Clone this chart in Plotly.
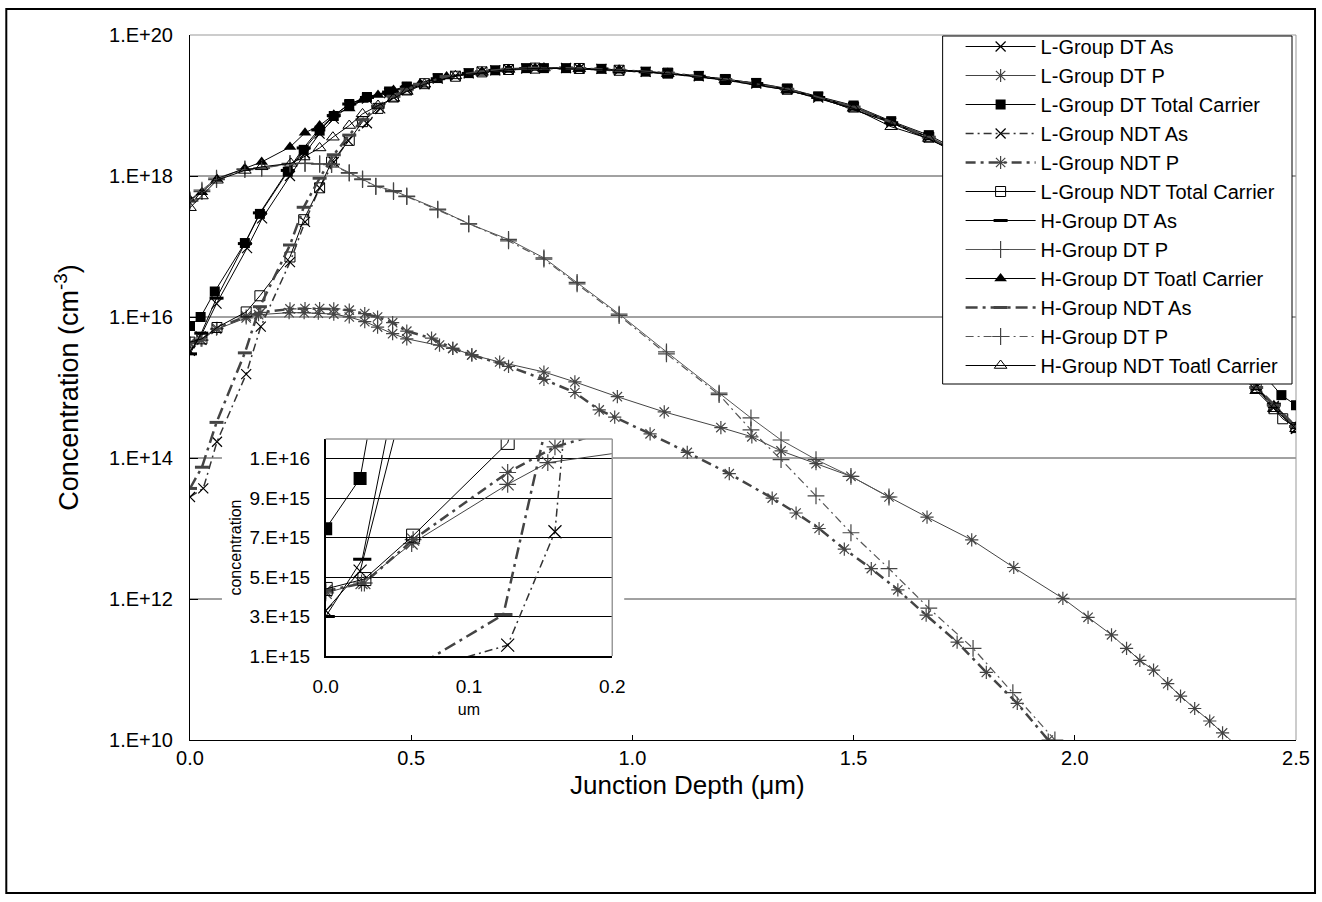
import plotly.graph_objects as go

# ---------------- data (junction depth in um, concentration in cm^-3) ----------------
l_dt_as_x = [0, 0.024, 0.06, 0.129, 0.163, 0.226, 0.26, 0.293, 0.325, 0.36, 0.40, 0.45, 0.49, 0.56, 0.63, 0.69, 0.76, 0.85, 0.93, 1.03, 1.15, 1.28, 1.42, 1.585, 1.75, 1.95, 2.15, 2.35, 2.45, 2.5]
l_dt_as_y = [3.3e15, 5.3e15, 1.55e16, 9.5e16, 2.5e17, 1.0e18, 2.1e18, 4.0e18, 6.5e18, 1.0e19, 1.25e19, 1.5e19, 1.8e19, 2.4e19, 2.85e19, 3.15e19, 3.35e19, 3.4e19, 3.3e19, 3.0e19, 2.6e19, 2.05e19, 1.3e19, 5.7e18, 2.0e18, 3.5e17, 4.0e16, 2.4e15, 5.5e14, 2.6e14]

l_dt_p_x = [0, 0.025, 0.06, 0.127, 0.155, 0.224, 0.258, 0.29, 0.325, 0.36, 0.395, 0.424, 0.458, 0.49, 0.564, 0.594, 0.637, 0.70, 0.80, 0.87, 0.966, 1.072, 1.2, 1.27, 1.336, 1.415, 1.494, 1.58, 1.666, 1.767, 1.862, 1.973, 2.03, 2.083, 2.117, 2.147, 2.178, 2.21, 2.239, 2.271, 2.305, 2.334, 2.37]
l_dt_p_y = [4.2e15, 4.7e15, 6.7e15, 9.7e15, 1.08e16, 1.15e16, 1.15e16, 1.13e16, 1.1e16, 1.0e16, 8.6e15, 7.2e15, 5.8e15, 4.9e15, 4.0e15, 3.6e15, 2.9e15, 2.3e15, 1.66e15, 1.2e15, 7.4e14, 4.5e14, 2.7e14, 2.0e14, 1.26e14, 8.3e13, 5.5e13, 2.8e13, 1.45e13, 6.9e12, 2.8e12, 1.02e12, 5.5e11, 3.1e11, 2.0e11, 1.35e11, 9.8e10, 6.3e10, 4.2e10, 2.8e10, 1.86e10, 1.26e10, 7.9e9]

l_dt_tot_x = [0, 0.024, 0.056, 0.124, 0.158, 0.221, 0.257, 0.293, 0.325, 0.36, 0.40, 0.45, 0.49, 0.56, 0.63, 0.69, 0.76, 0.80, 0.85, 0.93, 1.03, 1.08, 1.15, 1.21, 1.28, 1.35, 1.42, 1.50, 1.585, 1.67, 1.85, 2.05, 2.25, 2.41, 2.467, 2.5]
l_dt_tot_y = [7.45e15, 1.0e16, 2.3e16, 1.12e17, 2.9e17, 1.15e18, 2.35e18, 4.4e18, 7.1e18, 1.05e19, 1.32e19, 1.58e19, 1.86e19, 2.45e19, 2.88e19, 3.16e19, 3.39e19, 3.39e19, 3.39e19, 3.31e19, 3.02e19, 2.88e19, 2.63e19, 2.34e19, 2.09e19, 1.74e19, 1.35e19, 1.0e19, 6.0e18, 3.8e18, 1.0e18, 1.6e17, 1.6e16, 2.0e15, 7.8e14, 5.6e14]

l_ndt_as_x = [0, 0.03, 0.061, 0.127, 0.16, 0.226, 0.26, 0.293, 0.325, 0.357, 0.40, 0.43, 0.46, 0.49, 0.53, 0.60, 0.66, 0.72, 0.78, 0.88, 0.97, 1.08, 1.21, 1.35, 1.50, 1.67, 1.85, 2.05, 2.25, 2.41, 2.45, 2.5]
l_ndt_as_y = [2.8e13, 3.7e13, 1.7e14, 1.55e15, 7.3e15, 6.0e16, 2.24e17, 6.8e17, 1.58e18, 3.2e18, 5.6e18, 9.1e18, 1.32e19, 1.66e19, 2.0e19, 2.63e19, 3.02e19, 3.24e19, 3.39e19, 3.35e19, 3.16e19, 2.88e19, 2.34e19, 1.70e19, 9.5e18, 3.55e18, 8.9e17, 1.26e17, 1.0e16, 1.0e15, 5.2e14, 2.6e14]

l_ndt_p_x = [0, 0.027, 0.061, 0.127, 0.16, 0.226, 0.26, 0.293, 0.325, 0.36, 0.395, 0.424, 0.458, 0.49, 0.546, 0.594, 0.637, 0.72, 0.80, 0.87, 0.925, 0.96, 1.04, 1.124, 1.219, 1.316, 1.37, 1.422, 1.479, 1.54, 1.60, 1.664, 1.734, 1.80, 1.87, 1.94]
l_ndt_p_y = [4.3e15, 4.7e15, 6.9e15, 1.03e16, 1.16e16, 1.3e16, 1.32e16, 1.32e16, 1.3e16, 1.25e16, 1.12e16, 1.0e16, 8.3e15, 6.3e15, 5.0e15, 3.6e15, 2.9e15, 2.0e15, 1.3e15, 8.5e14, 4.8e14, 3.8e14, 2.2e14, 1.2e14, 6.0e13, 2.7e13, 1.66e13, 1.0e13, 5.1e12, 2.7e12, 1.35e12, 5.9e11, 2.45e11, 9.1e10, 3.3e10, 1.0e10]

l_ndt_tot_x = [0, 0.027, 0.061, 0.127, 0.158, 0.226, 0.257, 0.293, 0.32, 0.36, 0.39, 0.425, 0.46, 0.49, 0.53, 0.60, 0.66, 0.72, 0.78, 0.88, 0.97, 1.08, 1.21, 1.35, 1.50, 1.67, 1.85, 2.05, 2.25, 2.41, 2.45, 2.47, 2.5]
l_ndt_tot_y = [4.4e15, 4.9e15, 7.1e15, 1.18e16, 2.0e16, 7.1e16, 2.4e17, 6.8e17, 1.58e18, 3.2e18, 5.9e18, 9.1e18, 1.32e19, 1.66e19, 2.04e19, 2.6e19, 3.0e19, 3.24e19, 3.39e19, 3.35e19, 3.16e19, 2.88e19, 2.34e19, 1.70e19, 9.5e18, 3.55e18, 8.9e17, 1.26e17, 1.0e16, 1.0e15, 5.0e14, 3.6e14, 2.7e14]

h_dt_as_x = [0, 0.0255, 0.06, 0.124, 0.158, 0.221, 0.257, 0.29, 0.325, 0.36, 0.40, 0.45, 0.49, 0.56, 0.63, 0.69, 0.76, 0.85, 0.93, 1.03, 1.15, 1.28, 1.42, 1.585, 1.75, 1.95, 2.15, 2.35, 2.45, 2.5]
h_dt_as_y = [3.0e15, 5.9e15, 1.85e16, 1.1e17, 3.0e17, 1.2e18, 2.5e18, 4.5e18, 7.2e18, 1.05e19, 1.3e19, 1.55e19, 1.82e19, 2.4e19, 2.85e19, 3.15e19, 3.35e19, 3.4e19, 3.3e19, 3.0e19, 2.6e19, 2.05e19, 1.3e19, 5.7e18, 2.0e18, 3.5e17, 4.0e16, 2.4e15, 5.8e14, 2.8e14]

h_dt_p_x = [0, 0.027, 0.06, 0.124, 0.162, 0.226, 0.26, 0.293, 0.32, 0.36, 0.39, 0.42, 0.46, 0.49, 0.56, 0.63, 0.72, 0.80, 0.875, 0.97, 1.077, 1.196, 1.268, 1.336, 1.415, 1.494, 1.58]
h_dt_p_y = [4.6e17, 6.3e17, 9.3e17, 1.26e18, 1.29e18, 1.51e18, 1.51e18, 1.48e18, 1.48e18, 1.12e18, 9.1e17, 7.2e17, 6.2e17, 5.2e17, 3.4e17, 2.1e17, 1.26e17, 6.9e16, 3.1e16, 1.1e16, 3.2e15, 8.3e14, 3.7e14, 1.8e14, 9.5e13, 5.5e13, 2.8e13]

h_dt_tot_x = [0, 0.027, 0.061, 0.124, 0.162, 0.226, 0.26, 0.293, 0.325, 0.36, 0.39, 0.425, 0.46, 0.49, 0.52, 0.58, 0.66, 0.72, 0.78, 0.88, 0.97, 1.08, 1.21, 1.35, 1.50, 1.67, 1.85, 2.05, 2.25, 2.41, 2.45, 2.5]
h_dt_tot_y = [4.6e17, 5.9e17, 9.1e17, 1.29e18, 1.58e18, 2.57e18, 4.1e18, 5.2e18, 7.4e18, 9.1e18, 1.2e19, 1.41e19, 1.66e19, 1.82e19, 2.04e19, 2.57e19, 3.02e19, 3.27e19, 3.39e19, 3.35e19, 3.16e19, 2.88e19, 2.34e19, 1.70e19, 9.5e18, 3.55e18, 8.9e17, 1.26e17, 1.0e16, 1.0e15, 5.6e14, 2.8e14]

h_ndt_as_x = [0, 0.027, 0.06, 0.124, 0.158, 0.226, 0.257, 0.293, 0.325, 0.36, 0.39, 0.425, 0.46, 0.49, 0.52, 0.58, 0.66, 0.72, 0.78, 0.88, 0.97, 1.08, 1.21, 1.35, 1.50, 1.67, 1.85, 2.05, 2.25, 2.41, 2.45, 2.5]
h_ndt_as_y = [3.7e13, 7.4e13, 3.2e14, 3.1e15, 1.4e16, 1.05e17, 3.6e17, 9.3e17, 2.0e18, 3.8e18, 6.3e18, 9.8e18, 1.35e19, 1.7e19, 2.0e19, 2.57e19, 3.02e19, 3.27e19, 3.39e19, 3.35e19, 3.16e19, 2.88e19, 2.34e19, 1.70e19, 9.5e18, 3.55e18, 8.9e17, 1.26e17, 1.0e16, 1.0e15, 5.6e14, 2.8e14]

h_ndt_p_x = [0, 0.027, 0.06, 0.124, 0.162, 0.226, 0.26, 0.293, 0.32, 0.36, 0.39, 0.42, 0.46, 0.49, 0.56, 0.63, 0.72, 0.80, 0.875, 0.97, 1.077, 1.196, 1.268, 1.336, 1.415, 1.494, 1.58, 1.67, 1.77, 1.86, 1.955]
h_ndt_p_y = [4.4e17, 6.0e17, 8.9e17, 1.23e18, 1.29e18, 1.48e18, 1.51e18, 1.48e18, 1.45e18, 1.1e18, 8.9e17, 7.1e17, 6.0e17, 5.1e17, 3.3e17, 2.1e17, 1.2e17, 6.6e16, 2.95e16, 1.05e16, 3.0e15, 7.9e14, 2.5e14, 9.5e13, 2.9e13, 8.7e12, 2.7e12, 7.4e11, 2.0e11, 4.7e10, 1.0e10]

h_ndt_tot_x = [0, 0.027, 0.061, 0.124, 0.162, 0.228, 0.257, 0.293, 0.323, 0.36, 0.39, 0.425, 0.46, 0.49, 0.53, 0.60, 0.66, 0.72, 0.80, 0.88, 0.97, 1.08, 1.21, 1.35, 1.50, 1.585, 1.67, 1.85, 2.05, 2.25, 2.41, 2.45, 2.5]
h_ndt_tot_y = [3.55e17, 5.2e17, 8.7e17, 1.2e18, 1.35e18, 1.51e18, 1.86e18, 2.5e18, 3.55e18, 5.2e18, 7.6e18, 1.0e19, 1.26e19, 1.58e19, 2.0e19, 2.63e19, 2.95e19, 3.24e19, 3.39e19, 3.31e19, 3.16e19, 2.82e19, 2.29e19, 1.66e19, 9.1e18, 5.0e18, 3.4e18, 8.5e17, 1.2e17, 9.5e15, 9.0e14, 5.0e14, 2.6e14]

series_names = ["L-Group DT As", "L-Group DT P", "L-Group DT Total Carrier",
                "L-Group NDT As", "L-Group NDT P", "L-Group NDT Total Carrier",
                "H-Group DT As", "H-Group DT P", "H-Group DT Toatl Carrier",
                "H-Group NDT As", "H-Group DT P", "H-Group NDT Toatl Carrier"]
series_x = [l_dt_as_x, l_dt_p_x, l_dt_tot_x, l_ndt_as_x, l_ndt_p_x, l_ndt_tot_x,
            h_dt_as_x, h_dt_p_x, h_dt_tot_x, h_ndt_as_x, h_ndt_p_x, h_ndt_tot_x]
series_y = [l_dt_as_y, l_dt_p_y, l_dt_tot_y, l_ndt_as_y, l_ndt_p_y, l_ndt_tot_y,
            h_dt_as_y, h_dt_p_y, h_dt_tot_y, h_ndt_as_y, h_ndt_p_y, h_ndt_tot_y]

y_tick_vals = [1e10, 1e12, 1e14, 1e16, 1e18, 1e20]
y_tick_text = ["1.E+10", "1.E+12", "1.E+14", "1.E+16", "1.E+18", "1.E+20"]
x_tick_vals = [0, 0.5, 1.0, 1.5, 2.0, 2.5]
x_tick_text = ["0.0", "0.5", "1.0", "1.5", "2.0", "2.5"]
inset_y_vals = [1e15, 3e15, 5e15, 7e15, 9e15, 1.1e16]
inset_y_text = ["1.E+15", "3.E+15", "5.E+15", "7.E+15", "9.E+15", "1.E+16"]
inset_x_vals = [0, 0.1, 0.2]
inset_x_text = ["0.0", "0.1", "0.2"]

# ---------------- styles ----------------
styles = [
    dict(symbol="x-thin", size=10, color="black", mlw=1.2, lc="black", lw=1, dash="solid"),
    dict(symbol="asterisk", size=11, color="#444444", mlw=1.2, lc="#444444", lw=1, dash="solid"),
    dict(symbol="square", size=10, color="black", mlw=0, lc="black", lw=1, dash="solid"),
    dict(symbol="x-thin", size=10, color="black", mlw=1.2, lc="#333333", lw=1.5, dash="8px,4px,2px,4px"),
    dict(symbol="asterisk", size=11, color="#444444", mlw=1.2, lc="#444444", lw=2.5, dash="10px,5px,3px,5px"),
    dict(symbol="square-open", size=10, color="black", mlw=1, lc="black", lw=1, dash="solid"),
    dict(symbol="line-ew", size=10, color="black", mlw=3, lc="black", lw=1, dash="solid"),
    dict(symbol="cross-thin", size=12, color="#444444", mlw=1.2, lc="#555555", lw=1, dash="solid"),
    dict(symbol="triangle-up", size=11, color="black", mlw=0, lc="black", lw=1, dash="solid"),
    dict(symbol="line-ew", size=10, color="#444444", mlw=3, lc="#444444", lw=2.5, dash="12px,5px,3px,5px"),
    dict(symbol="cross-thin", size=12, color="#444444", mlw=1.2, lc="#555555", lw=1.2, dash="8px,4px,2px,4px"),
    dict(symbol="triangle-up-open", size=11, color="black", mlw=1, lc="black", lw=1, dash="solid"),
]

fig = go.Figure()
for name, xs, ys, st in zip(series_names, series_x, series_y, styles):
    fig.add_trace(go.Scatter(
        x=xs, y=ys, name=name, mode="lines+markers", xaxis="x", yaxis="y",
        line=dict(color=st["lc"], width=st["lw"], dash=st["dash"]),
        marker=dict(symbol=st["symbol"], size=st["size"], color=st["color"],
                    line=dict(color=st["color"], width=st["mlw"] if st["mlw"] else 0)),
    ))
# inset copies (zoom of the first 0.2 um on a linear scale)
for name, xs, ys, st in zip(series_names, series_x, series_y, styles):
    fig.add_trace(go.Scatter(
        x=xs, y=ys, name=name, mode="lines+markers", xaxis="x2", yaxis="y2",
        showlegend=False,
        line=dict(color=st["lc"], width=st["lw"], dash=st["dash"]),
        marker=dict(symbol=st["symbol"], size=st["size"] + 3, color=st["color"],
                    line=dict(color=st["color"], width=st["mlw"] if st["mlw"] else 0)),
    ))

FONT = "Liberation Sans, Arial, sans-serif"

shapes = []
# main grid lines (paper coords), gap where the inset chart sits
for yp, segs in [(0.8, [(0, 1)]), (0.6, [(0, 1)]), (0.4, [(0, 0.0289), (0.3818, 1)]), (0.2, [(0, 0.0289), (0.3926, 1)])]:
    for a, b in segs:
        shapes.append(dict(type="line", xref="paper", yref="paper", x0=a, x1=b, y0=yp, y1=yp,
                           line=dict(color="#444444", width=1), layer="below"))
# grey top / right border of plot area
shapes.append(dict(type="line", xref="paper", yref="paper", x0=0, x1=1, y0=1, y1=1,
                   line=dict(color="#999999", width=1), layer="below"))
shapes.append(dict(type="line", xref="paper", yref="paper", x0=1, x1=1, y0=0, y1=1,
                   line=dict(color="#999999", width=1), layer="below"))
# inset top / right grey border
shapes.append(dict(type="line", xref="x2 domain", yref="y2 domain", x0=0, x1=1, y0=1, y1=1,
                   line=dict(color="#999999", width=1.5), layer="above"))
shapes.append(dict(type="line", xref="x2 domain", yref="y2 domain", x0=1, x1=1, y0=0, y1=1,
                   line=dict(color="#999999", width=1.5), layer="above"))
# legend box (white, covers the curves underneath)
shapes.append(dict(type="rect", xref="paper", yref="paper",
                   x0=(944 - 190) / 1108, x1=(1294 - 190) / 1108,
                   y0=(740 - 384) / 705, y1=(740 - 36) / 705,
                   line=dict(color="black", width=1), fillcolor="white", layer="above"))
# outer chart frame
shapes.append(dict(type="rect", xref="paper", yref="paper", x0=-0.1661, x1=1.0172, y0=-0.217, y1=1.0369,
                   line=dict(color="black", width=2), fillcolor="rgba(0,0,0,0)", layer="below"))

annotations = [
    dict(text="Junction Depth (\u03bcm)", xref="paper", yref="paper",
         x=(688 - 190) / 1108, y=(740 - 785) / 705, xanchor="center", yanchor="middle",
         showarrow=False, font=dict(family=FONT, size=26, color="black")),
]

fig.update_layout(
    width=1322, height=902,
    margin=dict(l=190, r=24, t=35, b=162),
    paper_bgcolor="white", plot_bgcolor="white",
    font=dict(family=FONT, color="black"),
    showlegend=True,
    legend=dict(x=(962 - 190) / 1108, y=1 + 8 / 705, xanchor="left", yanchor="top",
                bgcolor="rgba(0,0,0,0)", borderwidth=0,
                font=dict(family=FONT, size=20, color="black"),
                itemwidth=70, tracegroupgap=0, traceorder="normal"),
    xaxis=dict(domain=[0, 1], range=[0, 2.5], tickvals=x_tick_vals, ticktext=x_tick_text,
               showgrid=False, zeroline=False, showline=True, linecolor="black", linewidth=1,
               ticks="inside", ticklen=5, tickcolor="black",
               tickfont=dict(family=FONT, size=20)),
    yaxis=dict(type="log", range=[10, 20], tickvals=y_tick_vals, ticktext=y_tick_text,
               showgrid=False, zeroline=False, showline=True, linecolor="black", linewidth=1,
               ticks="inside", ticklen=8, tickcolor="black",
               tickfont=dict(family=FONT, size=20), ticklabelstandoff=12,
               title=dict(text="Concentration (cm<sup>-3</sup>)", font=dict(family=FONT, size=27), standoff=22)),
    xaxis2=dict(domain=[0.1227, 0.3818], anchor="y2", range=[0, 0.2],
                tickvals=inset_x_vals, ticktext=inset_x_text,
                showgrid=False, zeroline=False, showline=True, linecolor="black", linewidth=1.5,
                ticks="", tickfont=dict(family=FONT, size=19), ticklabelstandoff=12,
                title=dict(text="um", font=dict(family=FONT, size=16), standoff=8)),
    yaxis2=dict(domain=[0.1191, 0.4270], anchor="x2", range=[1e15, 1.2e16],
                tickvals=inset_y_vals, ticktext=inset_y_text,
                showgrid=True, gridcolor="black", gridwidth=1, zeroline=False,
                showline=True, linecolor="black", linewidth=1.5,
                ticks="", tickfont=dict(family=FONT, size=19), ticklabelstandoff=10,
                title=dict(text="concentration", font=dict(family=FONT, size=16), standoff=4)),
    shapes=shapes,
    annotations=annotations,
)

fig.write_html("out.html", config={"displayModeBar": False},
               post_script="document.body.style.margin='0';")
